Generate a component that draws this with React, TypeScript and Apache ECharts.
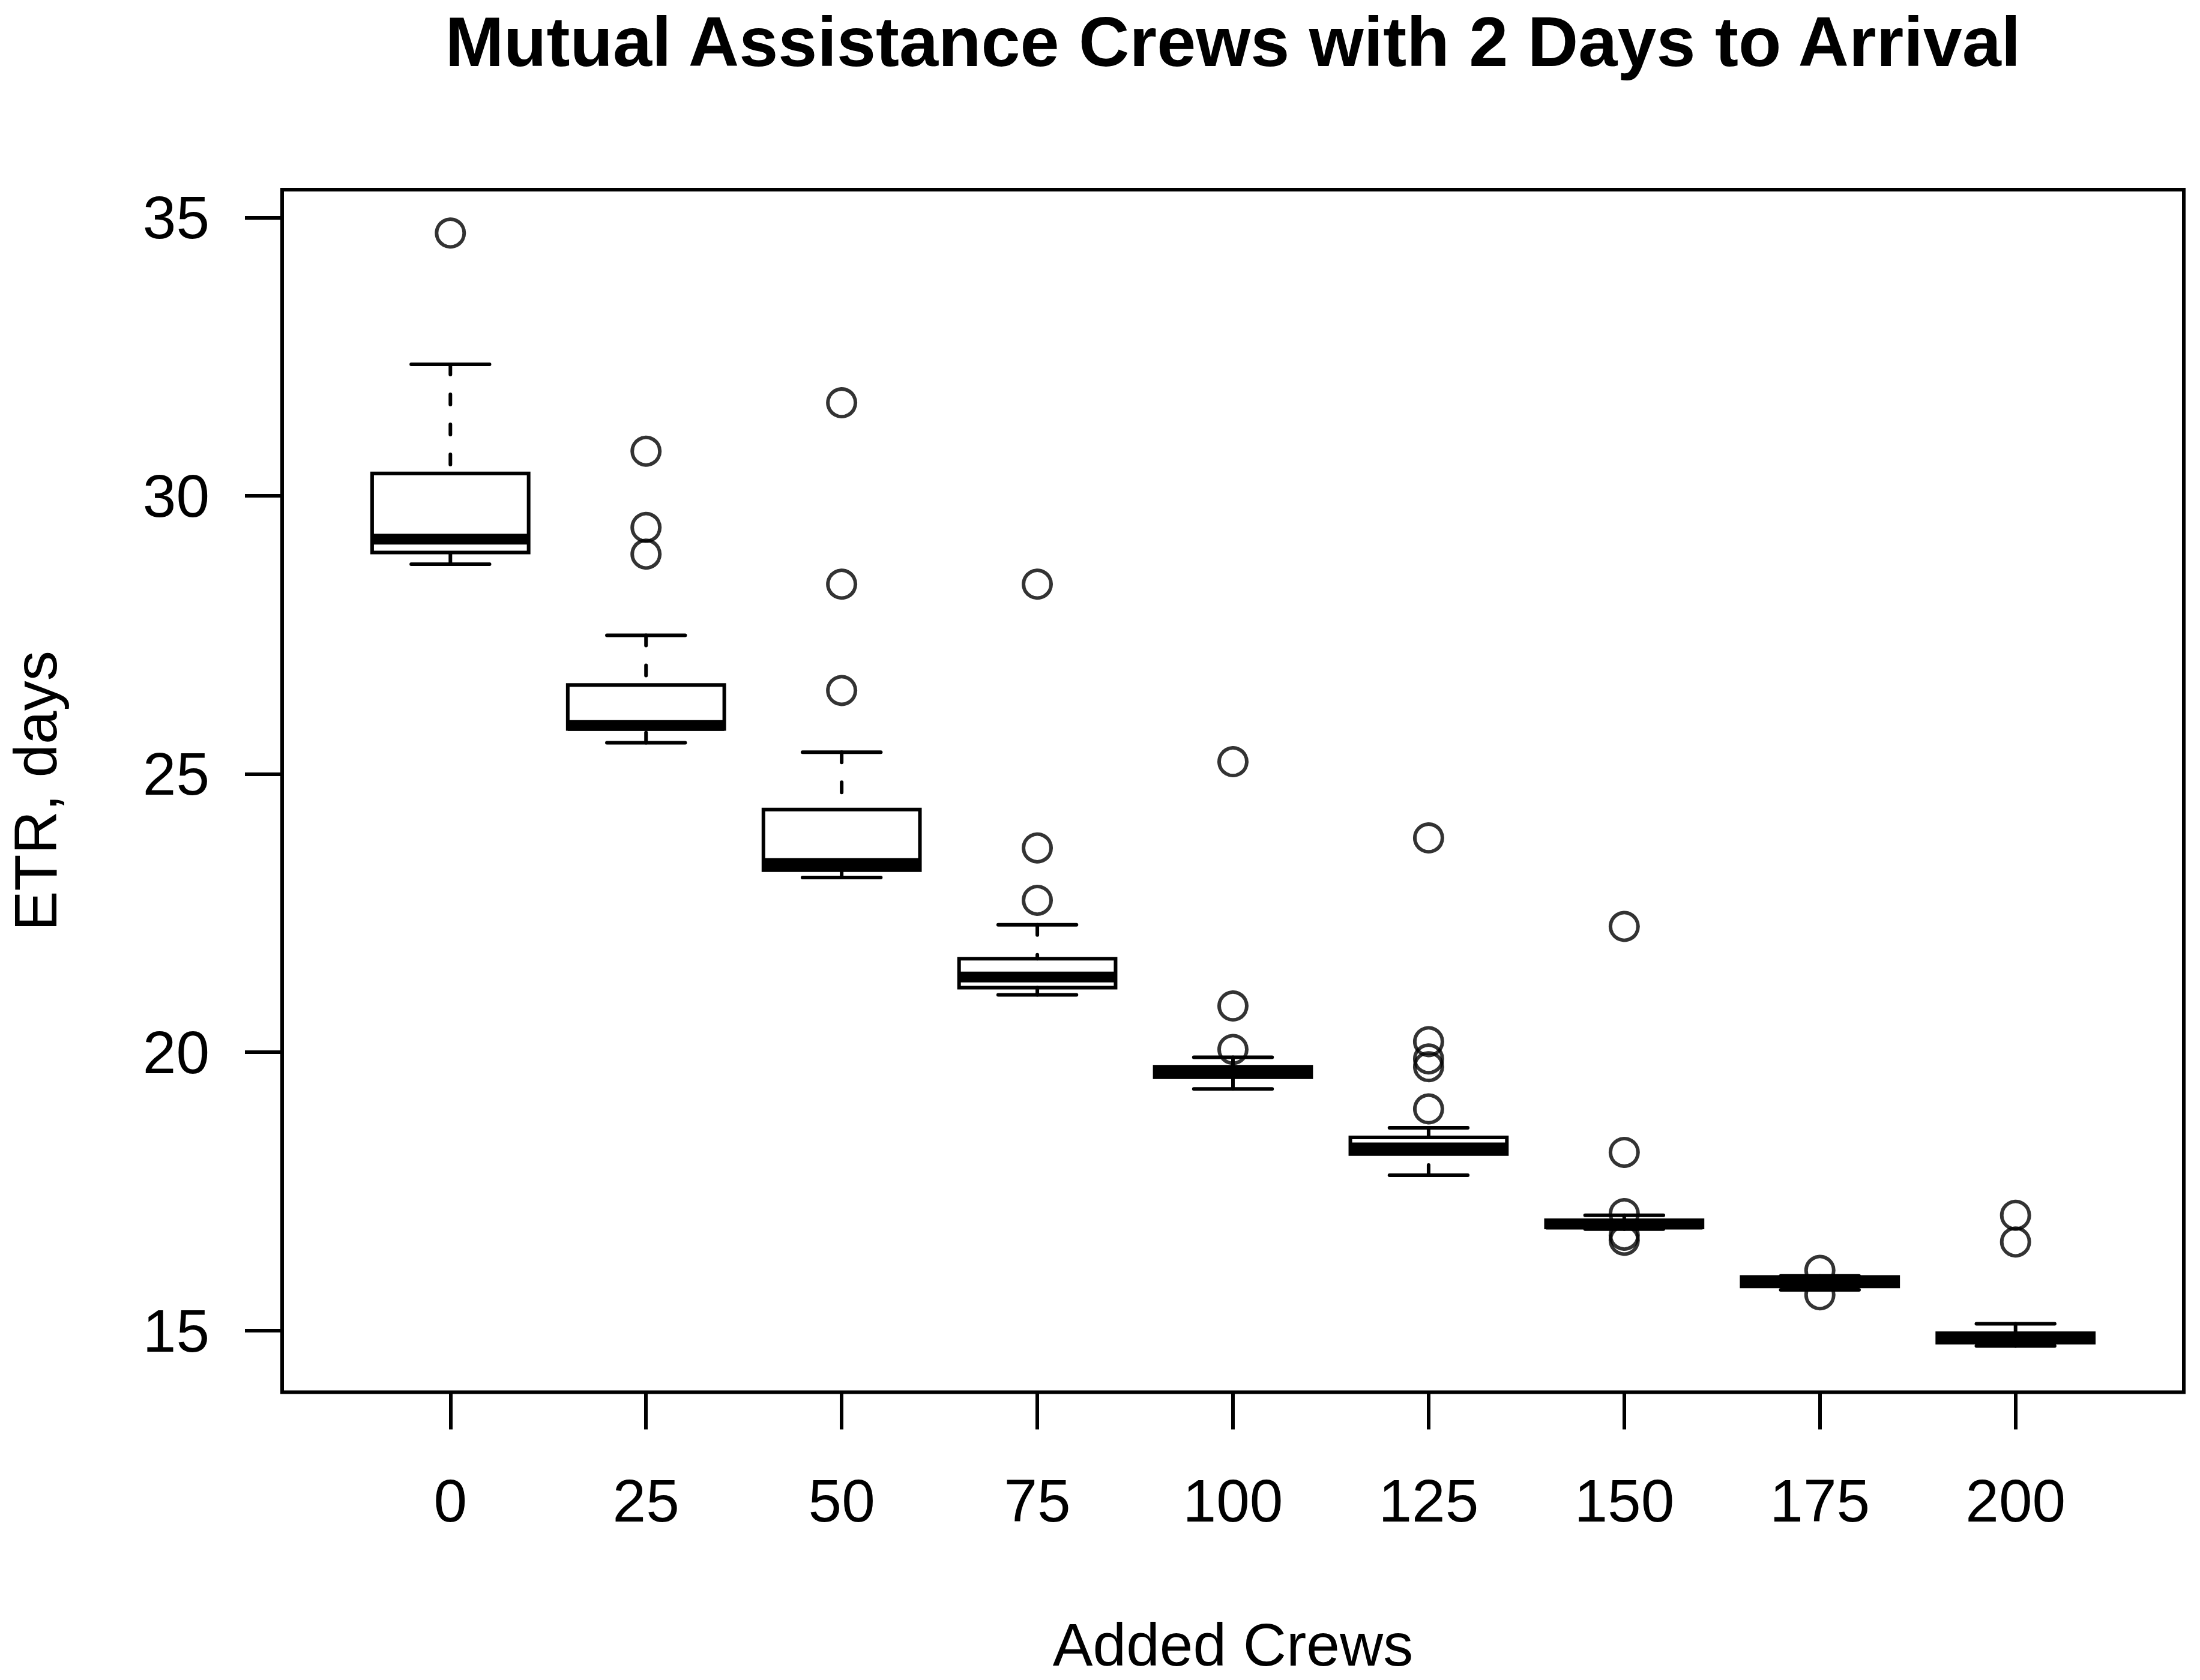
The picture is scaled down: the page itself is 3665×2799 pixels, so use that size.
import React, { useEffect, useRef } from "react";
import * as echarts from "echarts";

// Groups (added crews)
const categories = ["0", "25", "50", "75", "100", "125", "150", "175", "200"];

// Box statistics (ETR, days)
const lowerWhisker = [28.77, 25.56, 23.14, 21.03, 19.34, 17.79, 16.82, 15.73, 14.72];
const lowerQuartile = [28.98, 25.81, 23.27, 21.16, 19.55, 18.17, 16.85, 15.79, 14.78];
const medianValue = [29.22, 25.87, 23.39, 21.35, 19.64, 18.28, 16.91, 15.87, 14.86];
const upperQuartile = [30.40, 26.60, 24.36, 21.68, 19.74, 18.47, 16.98, 15.96, 14.95];
const upperWhisker = [32.36, 27.49, 25.39, 22.29, 19.91, 18.64, 17.07, 15.98, 15.12];

// Outliers per group
const outliers0 = [34.72];
const outliers25 = [30.8, 29.43, 28.95];
const outliers50 = [31.67, 28.41, 26.5];
const outliers75 = [28.41, 23.67, 22.73];
const outliers100 = [25.22, 20.83, 20.05];
const outliers125 = [23.85, 20.19, 19.88, 19.74, 18.98];
const outliers150 = [22.26, 18.2, 17.1, 16.71, 16.62];
const outliers175 = [16.08, 15.64];
const outliers200 = [17.07, 16.59];
const outliersByGroup = [
  outliers0, outliers25, outliers50, outliers75, outliers100,
  outliers125, outliers150, outliers175, outliers200,
];

// Axis ticks
const yTicks = [15, 20, 25, 30, 35];
const xTicks = categories.map((_, i) => i + 1);

const TITLE = "Mutual Assistance Crews with 2 Days to Arrival";
const X_NAME = "Added Crews";
const Y_NAME = "ETR, days";

export default function App() {
  const ref = useRef<HTMLDivElement>(null);

  useEffect(() => {
    document.body.style.margin = "0";
    document.body.style.overflow = "hidden";
    const chart = echarts.init(ref.current!, null, { renderer: "svg" });
    const font = "'Liberation Sans', Arial, Helvetica, sans-serif";

    const boxData = categories.map((_, i) => [
      i + 1,
      lowerWhisker[i],
      lowerQuartile[i],
      medianValue[i],
      upperQuartile[i],
      upperWhisker[i],
    ]);
    const outlierData: number[][] = [];
    outliersByGroup.forEach((vals, i) => vals.forEach((v) => outlierData.push([i + 1, v])));

    const option: any = {
      animation: false,
      backgroundColor: "#ffffff",
      title: {
        text: TITLE,
        left: 2054,
        top: 9,
        padding: 0,
        textAlign: "center",
        textStyle: {
          fontFamily: font,
          fontSize: 117,
          fontWeight: "bold",
          color: "#000",
          lineHeight: 120,
        },
      },
      grid: {
        left: 470,
        right: 27,
        top: 316,
        bottom: 479.5,
        show: true,
        borderColor: "#000",
        borderWidth: 6,
        backgroundColor: "transparent",
        containLabel: false,
        outerBoundsMode: "none",
      },
      xAxis: {
        type: "value",
        min: 0.14,
        max: 9.86,
        name: X_NAME,
        nameLocation: "middle",
        nameGap: 370,
        nameTextStyle: { fontFamily: font, fontSize: 100, color: "#000", lineHeight: 100 },
        splitLine: { show: false },
        axisLine: { show: false },
        axisTick: {
          show: true,
          length: 62,
          customValues: xTicks,
          lineStyle: { color: "#000", width: 6 },
        },
        axisLabel: {
          customValues: xTicks,
          margin: 130,
          fontFamily: font,
          fontSize: 100,
          lineHeight: 100,
          color: "#000",
          formatter: (v: number) => categories[Math.round(v) - 1] ?? "",
        },
      },
      yAxis: {
        type: "value",
        min: 13.89,
        max: 35.5,
        name: Y_NAME,
        nameLocation: "middle",
        nameRotate: 90,
        nameGap: 371,
        nameTextStyle: { fontFamily: font, fontSize: 100, color: "#000", lineHeight: 80 },
        splitLine: { show: false },
        axisLine: { show: false },
        axisTick: {
          show: true,
          length: 62,
          customValues: yTicks,
          lineStyle: { color: "#000", width: 6 },
        },
        axisLabel: {
          customValues: yTicks,
          margin: 121,
          fontFamily: font,
          fontSize: 100,
          lineHeight: 100,
          color: "#000",
        },
      },
      series: [
        {
          type: "custom",
          name: "ETR",
          silent: true,
          data: boxData,
          encode: { x: 0, y: [1, 2, 3, 4, 5] },
          renderItem: (params: any, api: any) => {
            const x = api.value(0);
            const lo = api.value(1);
            const q1 = api.value(2);
            const med = api.value(3);
            const q3 = api.value(4);
            const hi = api.value(5);
            const cx = api.coord([x, med])[0];
            const left = api.coord([x - 0.4, med])[0];
            const right = api.coord([x + 0.4, med])[0];
            const sLeft = api.coord([x - 0.2, med])[0];
            const sRight = api.coord([x + 0.2, med])[0];
            const yLo = api.coord([x, lo])[1];
            const yQ1 = api.coord([x, q1])[1];
            const yMed = api.coord([x, med])[1];
            const yQ3 = api.coord([x, q3])[1];
            const yHi = api.coord([x, hi])[1];
            const solid = { stroke: "#000", lineWidth: 6, lineCap: "round", fill: null };
            const dashed = {
              stroke: "#000",
              lineWidth: 6,
              lineCap: "round",
              lineDash: [17, 33],
              fill: null,
            };
            return {
              type: "group",
              children: [
                { type: "line", shape: { x1: cx, y1: yLo, x2: cx, y2: yQ1 }, style: dashed },
                { type: "line", shape: { x1: cx, y1: yHi, x2: cx, y2: yQ3 }, style: dashed },
                { type: "line", shape: { x1: sLeft, y1: yLo, x2: sRight, y2: yLo }, style: solid },
                { type: "line", shape: { x1: sLeft, y1: yHi, x2: sRight, y2: yHi }, style: solid },
                {
                  type: "rect",
                  shape: { x: left, y: yQ3, width: right - left, height: yQ1 - yQ3 },
                  style: { fill: "none", stroke: "#000", lineWidth: 6 },
                },
                {
                  type: "line",
                  shape: { x1: left, y1: yMed, x2: right, y2: yMed },
                  style: { stroke: "#000", lineWidth: 18, lineCap: "butt", fill: null },
                },
              ],
            };
          },
          z: 2,
        },
        {
          type: "scatter",
          name: "Outliers",
          silent: true,
          data: outlierData,
          symbol: "circle",
          symbolSize: 46,
          itemStyle: { color: "rgba(0,0,0,0)", borderColor: "#000", borderWidth: 6 },
          emphasis: { disabled: true },
          z: 3,
        },
      ],
    };

    chart.setOption(option);
    return () => chart.dispose();
  }, []);

  return <div ref={ref} style={{ width: 3665, height: 2799 }} />;
}
